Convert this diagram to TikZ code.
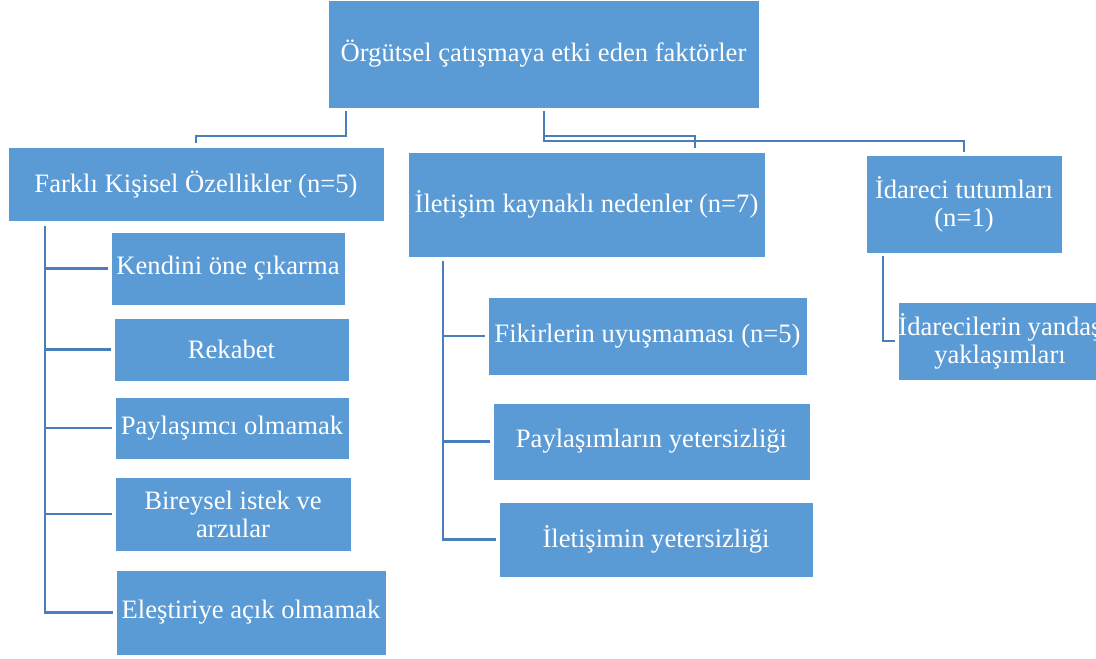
\documentclass[tikz,border=0pt]{standalone}
\usepackage{fontspec}
\setmainfont{Liberation Serif}
\definecolor{boxblue}{HTML}{5B9BD5}
\definecolor{lineblue}{HTML}{4A7EBB}
\tikzset{
  box/.style={fill=boxblue, draw=white, line width=0.8pt, text=white, align=center,
    inner sep=0pt, font=\fontsize{26.6}{28}\selectfont},
  conn/.style={draw=lineblue, line width=2.6pt}
}
\begin{document}
\begin{tikzpicture}[x=1pt,y=-1pt]
\useasboundingbox (0,0) rectangle (1096,659);
\clip (0,0) rectangle (1096,659);
% boxes
\node[box, minimum width=431pt, minimum height=108pt] (root) at (543.5,54) {Örgütsel çatışmaya etki eden faktörler};
\node[box, minimum width=376pt, minimum height=74pt] (farkli) at (196,184.5) {Farklı Kişisel Özellikler (n=5)};
\node[box, minimum width=234pt, minimum height=73pt] (kendini) at (228,268.5) {Kendini öne çıkarma};
\node[box, minimum width=235pt, minimum height=63pt] (rekabet) at (231.5,349.5) {Rekabet};
\node[box, minimum width=234pt, minimum height=62pt] (paylasimci) at (232,428) {Paylaşımcı olmamak};
\node[box, minimum width=236pt, minimum height=74pt] (bireysel) at (233,514) {Bireysel istek ve\\arzular};
\node[box, minimum width=270pt, minimum height=85pt] (elestiri) at (251,612.5) {Eleştiriye açık olmamak};
\node[box, minimum width=357pt, minimum height=105pt] (iletisim) at (586.5,204.5) {İletişim kaynaklı nedenler (n=7)};
\node[box, minimum width=319pt, minimum height=78pt] (fikir) at (647.5,336) {Fikirlerin uyuşmaması (n=5)};
\node[box, minimum width=317pt, minimum height=77pt] (paylasim) at (651.5,441.5) {Paylaşımların yetersizliği};
\node[box, minimum width=314pt, minimum height=75pt] (iletisimin) at (656,539.5) {İletişimin yetersizliği};
\node[box, minimum width=196pt, minimum height=98pt] (idareci) at (964,204) {İdareci tutumları\\(n=1)};
\node[box, minimum width=196pt, minimum height=78pt] (idareciler) at (1000,341) {İdarecilerin yandaş\\yaklaşımları};
% junction coordinates
\coordinate (j1) at (346,136);
\coordinate (j2) at (544,136);
\coordinate (j2e) at (695,0);
\coordinate (j3) at (544,141);
\coordinate (t1) at (45,0);
\coordinate (t2) at (443,0);
\coordinate (t3) at (883,0);
% top connectors
\draw[conn] ([yshift=-3pt]root.south -| j1) -- (j1) -| ([yshift=4pt]farkli.north);
\draw[conn] ([yshift=-3pt]root.south -| j2) -- (j2) -| ([yshift=4pt]iletisim.north -| j2e);
\draw[conn] ([yshift=-3pt]root.south -| j3) -- (j3) -| ([yshift=3pt]idareci.north);
% left trunk
\draw[conn] ([yshift=-4pt]farkli.south -| t1) -- (elestiri.west -| t1) -- ([xshift=-3pt]elestiri.west);
\draw[conn] (kendini.west -| t1) -- ([xshift=-3pt]kendini.west);
\draw[conn] (rekabet.west -| t1) -- ([xshift=-3pt]rekabet.west);
\draw[conn] (paylasimci.west -| t1) -- ([xshift=-3pt]paylasimci.west);
\draw[conn] (bireysel.west -| t1) -- ([xshift=-3pt]bireysel.west);
% middle trunk
\draw[conn] ([yshift=-4pt]iletisim.south -| t2) -- (iletisimin.west -| t2) -- ([xshift=-3pt]iletisimin.west);
\draw[conn] (fikir.west -| t2) -- ([xshift=-3pt]fikir.west);
\draw[conn] (paylasim.west -| t2) -- ([xshift=-3pt]paylasim.west);
% right
\draw[conn] ([yshift=-3pt]idareci.south -| t3) |- ([xshift=-3pt]idareciler.west);
\end{tikzpicture}
\end{document}
